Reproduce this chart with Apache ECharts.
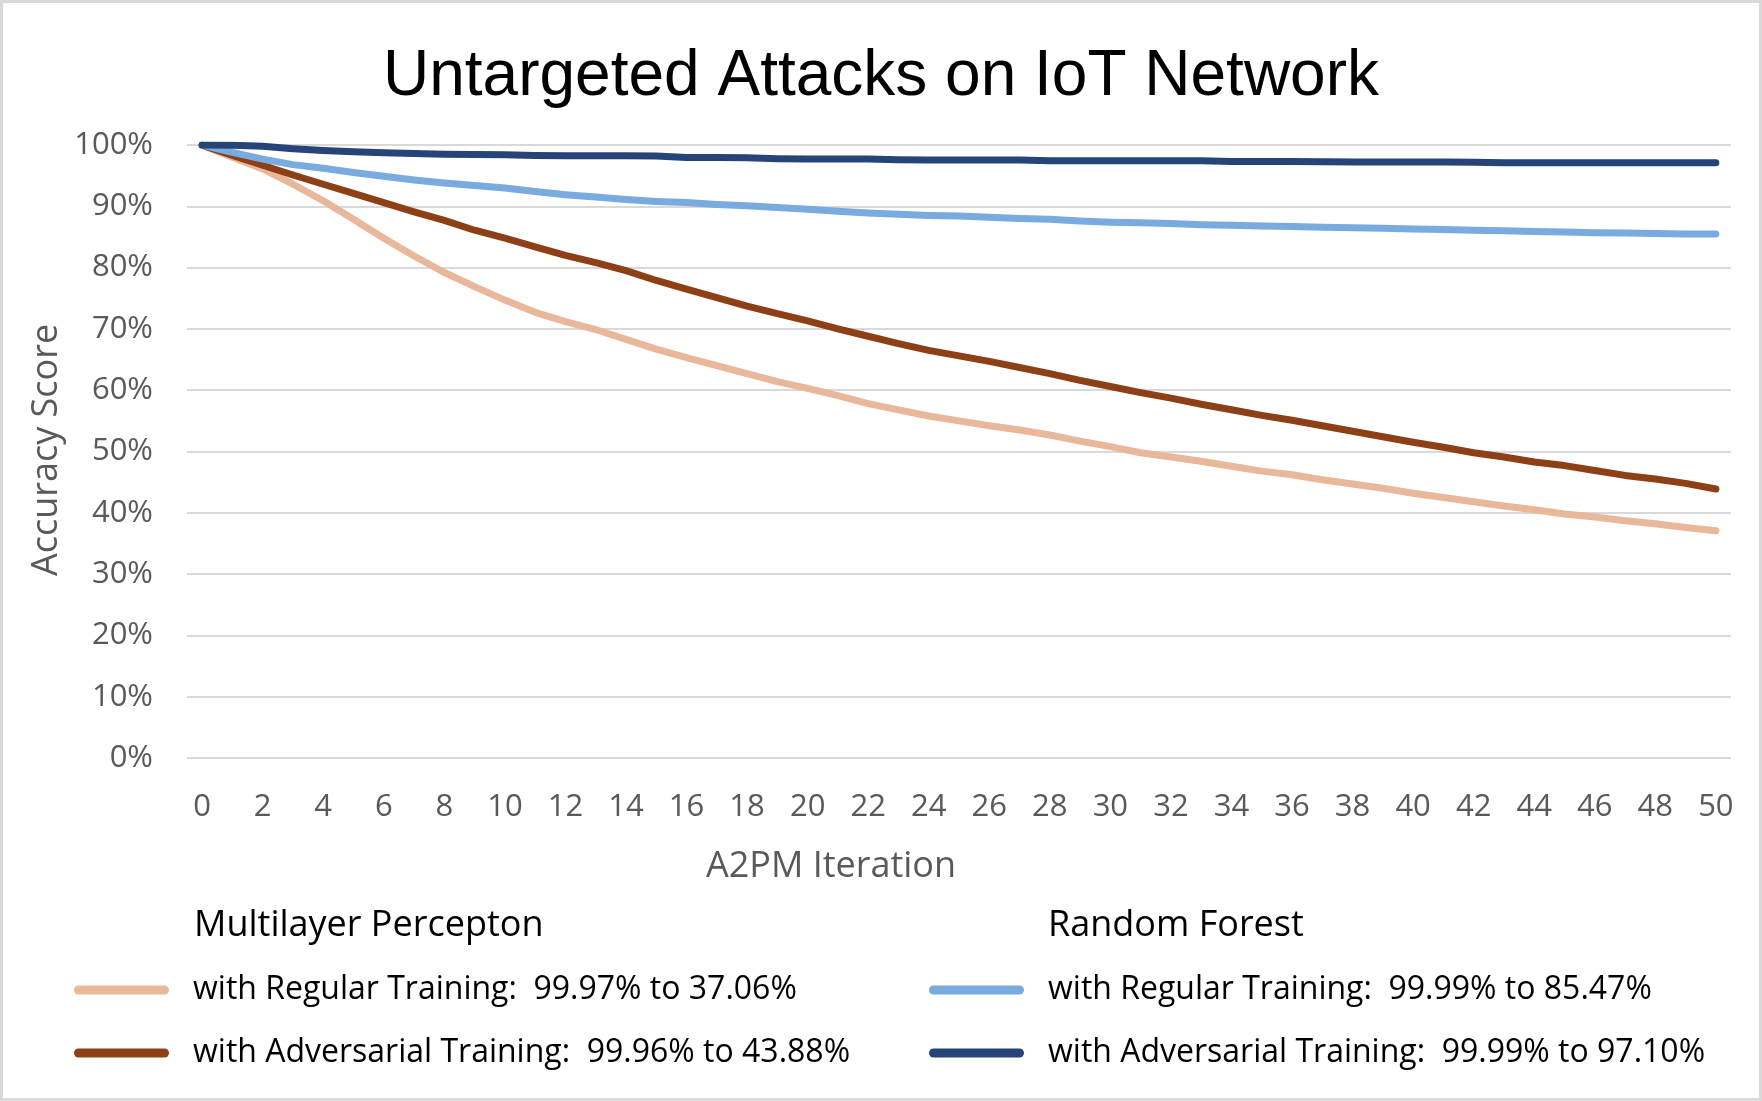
<!DOCTYPE html>
<html>
<head>
<meta charset="utf-8">
<script src="https://cdn.jsdelivr.net/npm/echarts@6/dist/echarts.min.js"></script>
<style>
html,body{margin:0;padding:0;background:#fff;}
#chart{width:1762px;height:1101px;}
</style>
</head>
<body>
<div id="chart"></div>
<script>
const iterations = [0,1,2,3,4,5,6,7,8,9,10,11,12,13,14,15,16,17,18,19,20,21,22,23,24,25,26,27,28,29,30,31,32,33,34,35,36,37,38,39,40,41,42,43,44,45,46,47,48,49,50];

const mlpRegular = [99.97,98.0,96.1,93.6,90.9,87.9,84.8,81.9,79.2,76.9,74.7,72.7,71.2,69.9,68.3,66.7,65.3,64.0,62.7,61.4,60.3,59.1,57.8,56.8,55.8,55.0,54.2,53.5,52.7,51.7,50.8,49.8,49.1,48.4,47.6,46.8,46.2,45.4,44.7,44.0,43.2,42.5,41.8,41.1,40.5,39.8,39.3,38.7,38.2,37.6,37.06];

const mlpAdversarial = [99.96,98.3,96.7,95.1,93.6,92.1,90.6,89.1,87.7,86.1,84.8,83.4,82.0,80.8,79.5,77.9,76.5,75.1,73.7,72.5,71.3,70.0,68.8,67.6,66.5,65.6,64.7,63.7,62.7,61.6,60.6,59.6,58.7,57.7,56.8,55.9,55.1,54.2,53.3,52.4,51.5,50.7,49.8,49.1,48.3,47.7,46.9,46.1,45.5,44.8,43.88];

const rfRegular = [99.99,98.8,97.7,96.8,96.2,95.5,94.9,94.3,93.8,93.4,93.0,92.4,91.9,91.5,91.1,90.8,90.6,90.3,90.1,89.8,89.5,89.2,88.9,88.7,88.5,88.4,88.2,88.0,87.9,87.6,87.4,87.3,87.2,87.0,86.9,86.8,86.7,86.6,86.5,86.4,86.3,86.2,86.1,86.0,85.9,85.8,85.7,85.65,85.55,85.5,85.47];

const rfAdversarial = [99.99,99.95,99.8,99.4,99.1,98.9,98.75,98.6,98.5,98.45,98.4,98.3,98.25,98.25,98.25,98.2,97.95,97.95,97.9,97.75,97.7,97.7,97.7,97.6,97.55,97.55,97.55,97.55,97.45,97.45,97.45,97.45,97.45,97.45,97.3,97.3,97.3,97.25,97.22,97.22,97.22,97.22,97.2,97.1,97.1,97.1,97.1,97.1,97.1,97.1,97.10];

const colors = {
  mlpRegular: '#E9B89B',
  mlpAdversarial: '#8D3F15',
  rfRegular: '#79AAE0',
  rfAdversarial: '#264478'
};

const pct = v => v.toFixed(2) + '%';
const rangeText = arr => pct(arr[0]) + ' to ' + pct(arr[arr.length - 1]);

const nameMlpReg = 'with Regular Training:  ' + rangeText(mlpRegular);
const nameMlpAdv = 'with Adversarial Training:  ' + rangeText(mlpAdversarial);
const nameRfReg = 'with Regular Training:  ' + rangeText(rfRegular);
const nameRfAdv = 'with Adversarial Training:  ' + rangeText(rfAdversarial);

const pill = 'path://M4.5,0 L90.5,0 A4.5,4.5 0 0 1 90.5,9 L4.5,9 A4.5,4.5 0 0 1 4.5,0 Z';
const font = 'Open Sans';

function lineSeries(name, data, color) {
  return {
    name: name,
    type: 'line',
    data: data,
    showSymbol: false,
    symbol: 'none',
    smooth: false,
    lineStyle: { color: color, width: 7, cap: 'round', join: 'round' },
    itemStyle: { color: color },
    emphasis: { disabled: true },
    animation: false
  };
}

function legendCfg(left, items) {
  return {
    orient: 'vertical',
    left: left,
    top: 970,
    padding: 0,
    itemWidth: 95,
    itemHeight: 9,
    itemGap: 23,
    icon: pill,
    selectedMode: false,
    itemStyle: { borderWidth: 0 },
    textStyle: { fontFamily: font, fontSize: 32, color: '#000', lineHeight: 40, padding: [0, 0, 0, 19] },
    data: items.map(it => ({ name: it[0], icon: pill, itemStyle: { color: it[1], borderWidth: 0 } }))
  };
}

const chart = echarts.init(document.getElementById('chart'), null, { renderer: 'canvas' });
chart.setOption({
  backgroundColor: '#fff',
  animation: false,
  title: {
    text: 'Untargeted Attacks on IoT Network',
    left: 'center',
    top: 45,
    padding: 0,
    textStyle: { fontFamily: 'Liberation Sans', fontSize: 64, fontWeight: 'normal', color: '#000' }
  },
  grid: { left: 187, right: 31, top: 145, bottom: 343, containLabel: false },
  xAxis: {
    type: 'category',
    data: iterations,
    boundaryGap: true,
    axisLine: { show: false },
    axisTick: { show: false },
    splitLine: { show: false },
    axisLabel: { interval: 1, margin: 34, color: '#595959', fontFamily: font, fontSize: 31 }
  },
  yAxis: {
    type: 'value',
    min: 0,
    max: 100,
    interval: 10,
    axisLine: { show: false },
    axisTick: { show: false },
    splitLine: { show: true, lineStyle: { color: '#D9D9D9', width: 2 } },
    axisLabel: { formatter: '{value}%', margin: 34, color: '#595959', fontFamily: font, fontSize: 31 }
  },
  legend: [
    legendCfg(74, [[nameMlpReg, colors.mlpRegular], [nameMlpAdv, colors.mlpAdversarial]]),
    legendCfg(929, [[nameRfReg, colors.rfRegular], [nameRfAdv, colors.rfAdversarial]])
  ],
  graphic: [
    { type: 'rect', silent: true, shape: { x: 1.5, y: 1.5, width: 1759, height: 1098 }, style: { fill: 'none', stroke: '#D9D9D9', lineWidth: 3 } },
    { type: 'text', x: 47, y: 450, rotation: Math.PI / 2, style: { text: 'Accuracy Score', fontFamily: font, fontSize: 36, fill: '#595959', align: 'center', verticalAlign: 'middle' } },
    { type: 'text', x: 831, y: 867, style: { text: 'A2PM Iteration', fontFamily: font, fontSize: 36, fill: '#595959', align: 'center', verticalAlign: 'middle' } },
    { type: 'text', x: 194, y: 926, style: { text: 'Multilayer Percepton', fontFamily: font, fontSize: 36, fill: '#000', align: 'left', verticalAlign: 'middle' } },
    { type: 'text', x: 1048, y: 926, style: { text: 'Random Forest', fontFamily: font, fontSize: 36, fill: '#000', align: 'left', verticalAlign: 'middle' } }
  ],
  series: [
    lineSeries(nameMlpReg, mlpRegular, colors.mlpRegular),
    lineSeries(nameMlpAdv, mlpAdversarial, colors.mlpAdversarial),
    lineSeries(nameRfReg, rfRegular, colors.rfRegular),
    lineSeries(nameRfAdv, rfAdversarial, colors.rfAdversarial)
  ]
});
</script>
</body>
</html>
